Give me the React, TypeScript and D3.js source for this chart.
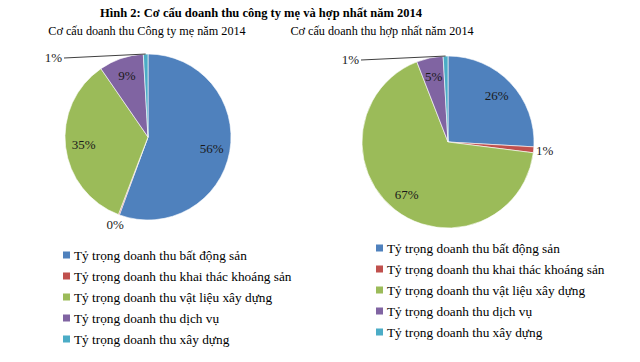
import React, { useEffect, useRef } from 'react';
import * as d3 from 'd3';

const width = 640;
const height = 362;

const categories = [
  'Tỷ trọng doanh thu bất động sản',
  'Tỷ trọng doanh thu khai thác khoáng sản',
  'Tỷ trọng doanh thu vật liệu xây dựng',
  'Tỷ trọng doanh thu dịch vụ',
  'Tỷ trọng doanh thu xây dựng',
];

// shares (%); labels are the rounded numbers printed on them
const parentValues = [55.6, 0.2, 34.6, 8.7, 0.9];
const parentLabels = ['56%', '0%', '35%', '9%', '1%'];
const groupValues = [25.9, 1.1, 67.1, 5.0, 0.9];
const groupLabels = ['26%', '1%', '67%', '5%', '1%'];

const title = 'Hình 2: Cơ cấu doanh thu công ty mẹ và hợp nhất năm 2014';
const parentTitle = 'Cơ cấu doanh thu Công ty mẹ năm 2014';
const groupTitle = 'Cơ cấu doanh thu hợp nhất năm 2014';

const colors = ['#4f81bd', '#c0504d', '#9bbb59', '#8064a2', '#4bacc6'];
// in = inside slice, out = just outside, leader = pulled out with a line
const placement = ['in', 'out', 'in', 'in', 'leader'];

const font = '"Liberation Serif", "Times New Roman", serif';

type Opts = { cx: number; cy: number; r: number; titleX: number; legendX: number; legendY: number };

function polar(a: number, d: number) {
  return [Math.sin(a) * d, -Math.cos(a) * d];
}

function drawPie(svg: any, values: number[], labels: string[], heading: string, o: Opts) {
  const pie = d3.pie<number>().sort(null).value(d => d);
  const arcs = pie(values);
  const arc = d3.arc<d3.PieArcDatum<number>>().innerRadius(0).outerRadius(o.r);

  svg
    .append('text')
    .attr('x', o.titleX)
    .attr('y', 35)
    .attr('text-anchor', 'middle')
    .style('font-family', font)
    .style('font-size', '12.2px')
    .style('fill', '#000')
    .text(heading);

  const g = svg.append('g').attr('transform', `translate(${o.cx},${o.cy})`);
  g.selectAll('path')
    .data(arcs)
    .join('path')
    .attr('d', arc)
    .attr('fill', (d: any, i: number) => colors[i])
    .attr('stroke', '#fff')
    .attr('stroke-width', 0.6);

  arcs.forEach((d, i) => {
    const mid = (d.startAngle + d.endAngle) / 2;
    let x = 0;
    let y = 0;
    let anchor = 'middle';
    if (placement[i] === 'in') {
      [x, y] = polar(mid, o.r * 0.78);
    } else if (placement[i] === 'out') {
      [x, y] = polar(mid, o.r * 1.13);
    } else {
      const [sx, sy] = polar(mid, o.r);
      const ex = -o.r - 1;
      const ey = -o.r + 4;
      g.append('line')
        .attr('x1', sx)
        .attr('y1', sy)
        .attr('x2', ex)
        .attr('y2', ey)
        .attr('stroke', '#404040')
        .attr('stroke-width', 1);
      x = ex - 2;
      y = ey - 1;
      anchor = 'end';
    }
    g.append('text')
      .attr('x', x)
      .attr('y', y)
      .attr('dy', '0.35em')
      .attr('text-anchor', anchor)
      .style('font-family', font)
      .style('font-size', '13px')
      .style('fill', '#1a1a1a')
      .text(labels[i]);
  });

  const legend = svg
    .append('g')
    .attr('transform', `translate(${o.legendX},${o.legendY})`)
    .selectAll('g')
    .data(categories)
    .join('g')
    .attr('transform', (d: string, i: number) => `translate(0,${i * 21})`);
  legend
    .append('rect')
    .attr('x', 0)
    .attr('y', -3.5)
    .attr('width', 7)
    .attr('height', 7)
    .attr('fill', (d: string, i: number) => colors[i]);
  legend
    .append('text')
    .attr('x', 11)
    .attr('y', 0)
    .attr('dy', '0.35em')
    .style('font-family', font)
    .style('font-size', '13.3px')
    .style('fill', '#000')
    .text((d: string) => d);
}

export default function App() {
  const ref = useRef<SVGSVGElement>(null);

  useEffect(() => {
    const svg = d3.select(ref.current);
    svg.selectAll('*').remove();

    svg
      .append('text')
      .attr('x', 261)
      .attr('y', 17)
      .attr('text-anchor', 'middle')
      .style('font-family', font)
      .style('font-size', '12.5px')
      .style('font-weight', 'bold')
      .style('fill', '#000')
      .text(title);

    drawPie(svg, parentValues, parentLabels, parentTitle, {
      cx: 148, cy: 137, r: 83, titleX: 147, legendX: 63, legendY: 255,
    });
    drawPie(svg, groupValues, groupLabels, groupTitle, {
      cx: 448, cy: 142, r: 86, titleX: 382, legendX: 376, legendY: 248,
    });
  }, []);

  return (
    <svg
      ref={ref}
      width={width}
      height={height}
      style={{ position: 'absolute', left: 0, top: 0, background: '#fff' }}
    />
  );
}
